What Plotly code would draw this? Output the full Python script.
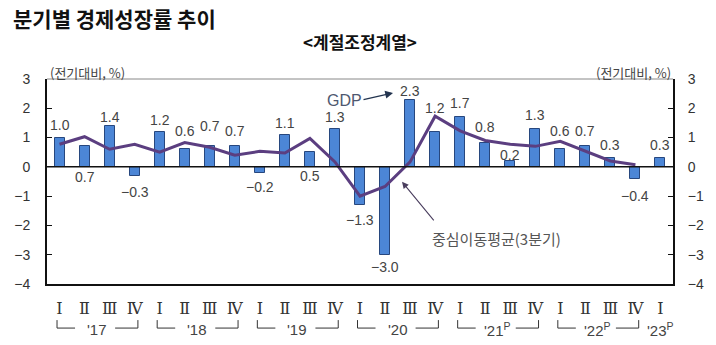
import plotly.graph_objects as go

# ---------------- data ----------------
quarters = ["Ⅰ", "Ⅱ", "Ⅲ", "Ⅳ"] * 6 + ["Ⅰ"]
years = ["'17", "'18", "'19", "'20", "'21<sup>P</sup>", "'22<sup>P</sup>", "'23<sup>P</sup>"]
gdp = [1.0, 0.7, 1.4, -0.3,
       1.2, 0.6, 0.7, 0.7,
       -0.2, 1.1, 0.5, 1.3,
       -1.3, -3.0, 2.3, 1.2,
       1.7, 0.8, 0.2, 1.3,
       0.6, 0.7, 0.3, -0.4,
       0.3]
gdp_text = ["1.0", "0.7", "1.4", "−0.3",
            "1.2", "0.6", "0.7", "0.7",
            "−0.2", "1.1", "0.5", "1.3",
            "−1.3", "−3.0", "2.3", "1.2",
            "1.7", "0.8", "0.2", "1.3",
            "0.6", "0.7", "0.3", "−0.4",
            "0.3"]
ma3 = [0.77, 1.03, 0.60, 0.77,
       0.50, 0.83, 0.67, 0.40,
       0.53, 0.47, 0.97, 0.17,
       -1.00, -0.67, 0.17, 1.73,
       1.23, 0.90, 0.77, 0.70,
       0.87, 0.53, 0.20, 0.07]
yticks = [3, 2, 1, 0, -1, -2, -3, -4]
ytick_text = ["3", "2", "1", "0", "−1", "−2", "−3", "−4"]

# label pixel offsets (layout only)
label_shift = [13, -31, 9, -16,
               12, 18, 20, 15,
               -14, 12, -24, 12,
               -15, -12, 9, 24,
               14, 16, 6, 14,
               18, 15, 13, -17,
               13]

x = list(range(len(gdp)))
xm = list(range(len(ma3)))

FONT = "Noto Sans CJK KR"
LBL = "Liberation Sans"

fig = go.Figure()
fig.add_trace(go.Bar(x=x, y=gdp, width=0.4,
                     marker=dict(color="#4C86D6", line=dict(color="#27477E", width=1)),
                     yaxis="y"))
fig.add_trace(go.Scatter(x=xm, y=ma3, mode="lines",
                         line=dict(color="#5B3E80", width=3), yaxis="y"))
# invisible trace to activate right axis
fig.add_trace(go.Scatter(x=[0], y=[0], mode="markers", marker=dict(opacity=0),
                         yaxis="y2", hoverinfo="skip"))

ann = []
for i, (v, t, s) in enumerate(zip(gdp, gdp_text, label_shift)):
    ann.append(dict(x=i, y=v, text=t, showarrow=False, yshift=s, yanchor="middle",
                    xref="x", yref="y", font=dict(family=LBL, size=14, color="#444444")))

# year brackets
shapes = []
for k, yl in enumerate(years):
    s = 4 * k
    if k < 6:
        x0, x1 = s - 0.1, s + 3.13
        shapes += [
            dict(type="line", xref="x", yref="paper", x0=x0, x1=x0, y0=-0.176, y1=-0.215,
                 line=dict(color="#333333", width=1)),
            dict(type="line", xref="x", yref="paper", x0=x0, x1=s + 0.62, y0=-0.215, y1=-0.215,
                 line=dict(color="#333333", width=1)),
            dict(type="line", xref="x", yref="paper", x0=s + 2.22, x1=x1, y0=-0.215, y1=-0.215,
                 line=dict(color="#333333", width=1)),
            dict(type="line", xref="x", yref="paper", x0=x1, x1=x1, y0=-0.176, y1=-0.215,
                 line=dict(color="#333333", width=1)),
        ]
        xc = s + 1.5
    else:
        xc = s
    ann.append(dict(x=xc, y=-0.22, xref="x", yref="paper", text=yl, showarrow=False,
                    yanchor="middle", font=dict(family=LBL, size=15, color="#444444")))

# frame
shapes.append(dict(type="line", xref="paper", yref="paper", x0=0, x1=1, y0=1, y1=1,
                   line=dict(color="#888888", width=1)))
shapes.append(dict(type="line", xref="paper", yref="y", x0=0, x1=1, y0=0, y1=0,
                   line=dict(color="#111111", width=1.5)))

ann += [
    dict(xref="paper", yref="paper", x=-36 / 626, y=(284 - 18) / 205, xanchor="left", yanchor="middle",
         text="<b>분기별 경제성장률 추이</b>", showarrow=False,
         font=dict(family=FONT, size=21, color="#111111")),
    dict(xref="paper", yref="paper", x=(360 - 47) / 626, y=(284 - 41) / 205, xanchor="center", yanchor="middle",
         text="<b>&lt;계절조정계열&gt;</b>", showarrow=False,
         font=dict(family=FONT, size=17, color="#111111")),
    dict(xref="paper", yref="paper", x=(48 - 47) / 626, y=(284 - 72) / 205, xanchor="left", yanchor="middle",
         text="(전기대비, %)", showarrow=False, font=dict(family=FONT, size=13, color="#444444")),
    dict(xref="paper", yref="paper", x=(673 - 47) / 626, y=(284 - 72) / 205, xanchor="right", yanchor="middle",
         text="(전기대비, %)", showarrow=False, font=dict(family=FONT, size=13, color="#444444")),
    # GDP label + arrow
    dict(xref="paper", yref="paper", x=(344 - 47) / 626, y=(284 - 100) / 205, xanchor="center", yanchor="middle",
         text="GDP", showarrow=False, font=dict(family=LBL, size=16, color="#4E5870")),
    dict(x=(393 - 59.5) / 25.04, y=(167 - 93) / 29.3, xref="x", yref="y", text="", showarrow=True,
         ax=-31, ay=7, arrowhead=2, arrowsize=1.2, arrowwidth=1.3, arrowcolor="#23344F", standoff=0),
    # MA label + arrow
    dict(xref="paper", yref="paper", x=(496 - 47) / 626, y=(284 - 238) / 205, xanchor="center", yanchor="middle",
         text="중심이동평균(3분기)", showarrow=False, font=dict(family=FONT, size=15, color="#555555")),
    dict(x=(402 - 59.5) / 25.04, y=(167 - 182) / 29.3, xref="x", yref="y", text="", showarrow=True,
         ax=33, ay=40, arrowhead=2, arrowsize=1.2, arrowwidth=1.1, arrowcolor="#4A3E5E", standoff=0),
]

fig.update_layout(
    width=716, height=345,
    margin=dict(l=47, r=43, t=79, b=61),
    paper_bgcolor="white", plot_bgcolor="white",
    showlegend=False, bargap=0,
    xaxis=dict(range=[-0.5, 24.5], tickmode="array", tickvals=x, ticktext=quarters,
               showgrid=False, zeroline=False, showline=True, linecolor="#111111", linewidth=2,
               ticks="", ticklabelstandoff=9,
               tickfont=dict(family="DejaVu Serif", size=16, color="#333333")),
    yaxis=dict(range=[-4, 3], tickmode="array", tickvals=yticks, ticktext=ytick_text,
               showgrid=False, zeroline=False, showline=True, linecolor="#111111", linewidth=2,
               ticks="inside", ticklen=5, tickcolor="#111111", ticklabelstandoff=12,
               tickfont=dict(family=LBL, size=14, color="#333333")),
    yaxis2=dict(range=[-4, 3], overlaying="y", side="right", tickmode="array", tickvals=yticks,
                ticktext=ytick_text, showgrid=False, zeroline=False, showline=True,
                linecolor="#111111", linewidth=2, ticks="inside", ticklen=5, tickcolor="#111111",
                ticklabelstandoff=10, tickfont=dict(family=LBL, size=14, color="#333333")),
    annotations=ann, shapes=shapes,
)

fig.write_html("out.html")
